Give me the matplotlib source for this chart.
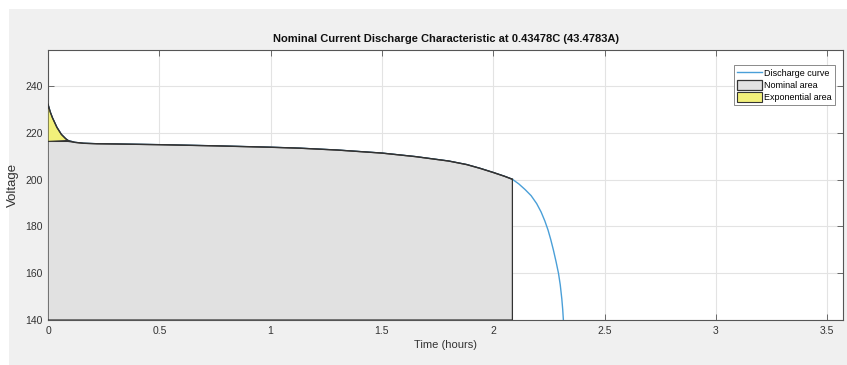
import numpy as np
import matplotlib.pyplot as plt
from matplotlib.patches import Rectangle

# Discharge curve
time_h = [0, 0.01, 0.02, 0.04, 0.06, 0.08, 0.09, 0.12, 0.16, 0.22, 0.3, 0.5,
          0.75, 1.0, 1.13, 1.3, 1.5, 1.65, 1.8, 1.88, 1.94, 2.0, 2.05, 2.086,
          2.115, 2.143, 2.17, 2.195, 2.215, 2.232, 2.246, 2.258, 2.27, 2.282,
          2.293, 2.301, 2.308, 2.312, 2.315]
voltage = [232.3, 229.0, 226.5, 222.4, 219.4, 217.5, 216.8, 216.0, 215.6, 215.4,
           215.3, 215.0, 214.5, 213.9, 213.5, 212.7, 211.4, 209.9, 208.0, 206.5,
           204.9, 203.1, 201.5, 200.2,
           198.2, 195.8, 193.2, 189.8, 186.2, 182.3, 178.5, 174.5, 170.0, 165.0,
           160.0, 155.0, 149.0, 144.5, 140.0]
nominal_end = 2.086
exp_level = 216.4

title = "Nominal Current Discharge Characteristic at 0.43478C (43.4783A)"
legend_labels = ["Discharge curve", "Nominal area", "Exponential area"]

font = ['Liberation Sans', 'DejaVu Sans']

t = np.array(time_h)
v = np.array(voltage)

fig = plt.figure(figsize=(8.47, 3.65), dpi=100, facecolor='#f0f0f0')
# white strips at left / top of the screenshot
fig.patches.append(Rectangle((0, 0), 9 / 847, 1, transform=fig.transFigure,
                             facecolor='white', edgecolor='none', zorder=-1))
fig.patches.append(Rectangle((0, 1 - 9 / 365), 1, 9 / 365, transform=fig.transFigure,
                             facecolor='white', edgecolor='none', zorder=-1))

ax = fig.add_axes([48 / 847, 45 / 365, 795 / 847, 270 / 365])

line, = ax.plot(t, v, color='#4a9fd8', lw=1.0, zorder=2)

# nominal area
m = t <= nominal_end
tn = np.concatenate([[0], t[m], [nominal_end]])
vn = np.concatenate([[exp_level], np.minimum(v[m], exp_level), [140]])
nom = ax.fill(np.concatenate([tn, [0]]), np.concatenate([vn, [140]]),
              facecolor='#e1e1e1', edgecolor='#333333', lw=0.9, zorder=3)[0]
ax.plot(t[m], v[m], color='#333333', lw=1.0, zorder=4)

# exponential area
me = t <= 0.1
te = t[me]
ve = v[me]
expo = ax.fill(np.concatenate([te, [0]]),
               np.concatenate([np.maximum(ve, exp_level), [exp_level]]),
               facecolor='#f2f07a', edgecolor='#333333', lw=0.8, zorder=3)[0]

ax.set_xlim(0, 3.571)
ax.set_ylim(140, 255.5)
ax.set_xticks([0, 0.5, 1, 1.5, 2, 2.5, 3, 3.5])
ax.set_xticklabels(['0', '0.5', '1', '1.5', '2', '2.5', '3', '3.5'])
ax.set_yticks([140, 160, 180, 200, 220, 240])
ax.grid(True, color='#e3e3e3', lw=0.8, zorder=1)
ax.set_axisbelow(True)
ax.tick_params(direction='in', top=True, right=True, length=4, width=0.6,
               colors='#555555', labelcolor='#333333', labelsize=7.5, pad=4)
for lab in ax.get_xticklabels() + ax.get_yticklabels():
    lab.set_family(font)
for s in ax.spines.values():
    s.set_color('#555555')
    s.set_linewidth(0.8)

ax.set_title(title, fontsize=8, fontweight='bold', family=font, color='#111111', pad=6)
ax.set_xlabel("Time (hours)", fontsize=8, family=font, color='#333333', labelpad=3)
ax.set_ylabel("Voltage", fontsize=9.5, family=font, color='#333333')
ax.yaxis.set_label_coords(-0.036, 0.5)

leg = ax.legend([line, nom, expo], legend_labels, loc='upper right',
                bbox_to_anchor=(0.995, 0.96), prop={'family': font, 'size': 6.5},
                fancybox=False, framealpha=1, edgecolor='#777777',
                handlelength=2.8, handleheight=1.3, borderpad=0.3,
                labelspacing=0.25, handletextpad=0.2)
leg.get_frame().set_linewidth(0.6)

fig.savefig("out.png", dpi=100, facecolor=fig.get_facecolor())
